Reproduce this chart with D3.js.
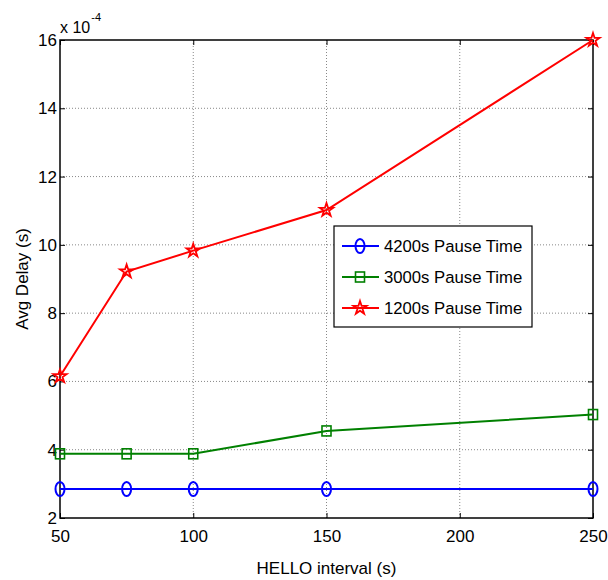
<!DOCTYPE html>
<html>
<head>
<meta charset="utf-8">
<script src="https://cdn.jsdelivr.net/npm/d3@7"></script>
<style>
  body { margin: 0; background: #fff; }
  text { font-family: "Liberation Sans", Arial, sans-serif; fill: #000; }
</style>
</head>
<body>
<div id="chart"></div>
<script>
// HELLO interval values and average delay (x 10^-4)
var intervals = [50, 75, 100, 150, 250];
var delay4200 = [2.85, 2.85, 2.85, 2.85, 2.85];
var delay3000 = [3.88, 3.88, 3.88, 4.55, 5.03];
var delay1200 = [6.15, 9.22, 9.83, 11.02, 16.0];
var seriesNames = ["4200s Pause Time", "3000s Pause Time", "1200s Pause Time"];
var seriesColors = ["#0000ff", "#008000", "#ff0000"];
var seriesMarkers = ["circle", "square", "star"];
var xTicks = [50, 100, 150, 200, 250];
var yTicks = [2, 4, 6, 8, 10, 12, 14, 16];

var W = 608, H = 580;
var margin = {left: 60, right: 15, top: 40, bottom: 62};

var svg = d3.select('#chart').append('svg')
  .attr('width', W).attr('height', H);

var x = d3.scaleLinear().domain([50, 250]).range([margin.left, W - margin.right]);
var y = d3.scaleLinear().domain([2, 16]).range([H - margin.bottom, margin.top]);

var x0 = x.range()[0], x1 = x.range()[1];
var y0 = y.range()[0], y1 = y.range()[1];

// grid lines
var grid = svg.append('g').attr('class', 'grid');
grid.selectAll('line.gx').data(xTicks.slice(1, -1)).enter().append('line')
  .attr('x1', function(d) { return x(d); }).attr('x2', function(d) { return x(d); })
  .attr('y1', y1).attr('y2', y0)
  .style('stroke', '#888').style('stroke-width', 1).style('stroke-dasharray', '1,2');
grid.selectAll('line.gy').data(yTicks.slice(1, -1)).enter().append('line')
  .attr('x1', x0).attr('x2', x1)
  .attr('y1', function(d) { return y(d); }).attr('y2', function(d) { return y(d); })
  .style('stroke', '#888').style('stroke-width', 1).style('stroke-dasharray', '1,2');

// axes (ticks pointing in, MATLAB style)
var xAxis = svg.append('g').attr('transform', 'translate(0,' + y0 + ')')
  .call(d3.axisBottom(x).tickValues(xTicks).tickSizeInner(-5).tickSizeOuter(0).tickPadding(12));
var xAxisTop = svg.append('g').attr('transform', 'translate(0,' + y1 + ')')
  .call(d3.axisTop(x).tickValues(xTicks).tickSizeInner(-5).tickSizeOuter(0).tickFormat(''));
var yAxis = svg.append('g').attr('transform', 'translate(' + x0 + ',0)')
  .call(d3.axisLeft(y).tickValues(yTicks).tickSizeInner(-5).tickSizeOuter(0).tickPadding(3));
var yAxisRight = svg.append('g').attr('transform', 'translate(' + x1 + ',0)')
  .call(d3.axisRight(y).tickValues(yTicks).tickSizeInner(-5).tickSizeOuter(0).tickFormat(''));

[xAxis, xAxisTop, yAxis, yAxisRight].forEach(function(a) {
  a.selectAll('.domain').remove();
  a.selectAll('.tick line').style('stroke', '#000');
  a.selectAll('.tick text').style('font-size', '17px').attr('font-family', null);
});

svg.append('rect')
  .attr('x', x0).attr('y', y1)
  .attr('width', x1 - x0).attr('height', y0 - y1)
  .style('fill', 'none').style('stroke', '#000').style('stroke-width', 1.5);

// exponent label
var expo = svg.append('text').attr('x', 60).attr('y', 33).style('font-size', '16px');
expo.append('tspan').text('x 10');
expo.append('tspan').attr('dy', -12).attr('dx', 1).style('font-size', '11px').text('-4');

// axis labels
svg.append('text')
  .attr('x', (x0 + x1) / 2).attr('y', 574)
  .attr('text-anchor', 'middle').style('font-size', '17px')
  .text('HELLO interval (s)');
svg.append('text')
  .attr('transform', 'translate(28,' + ((y0 + y1) / 2) + ') rotate(-90)')
  .attr('text-anchor', 'middle').style('font-size', '17px')
  .text('Avg Delay (s)');

var star = d3.symbol().type(d3.symbolStar).size(55);

function drawMarker(g, type, color, cx, cy) {
  if (type === 'circle') {
    g.append('ellipse').attr('cx', cx).attr('cy', cy).attr('rx', 4.5).attr('ry', 7)
      .style('fill', 'none').style('stroke', color).style('stroke-width', 2);
  } else if (type === 'square') {
    g.append('rect').attr('x', cx - 4.5).attr('y', cy - 5).attr('width', 9).attr('height', 10)
      .style('fill', 'none').style('stroke', color).style('stroke-width', 1.6);
  } else {
    g.append('path').attr('d', star)
      .attr('transform', 'translate(' + cx + ',' + cy + ')')
      .style('fill', 'none').style('stroke', color).style('stroke-width', 1.8);
  }
}

var allSeries = [delay4200, delay3000, delay1200];
var line = d3.line()
  .x(function(d, i) { return x(intervals[i]); })
  .y(function(d) { return y(d); });

allSeries.forEach(function(vals, s) {
  var g = svg.append('g');
  g.append('path').datum(vals).attr('d', line)
    .style('fill', 'none').style('stroke', seriesColors[s]).style('stroke-width', 2);
  vals.forEach(function(v, i) {
    drawMarker(g, seriesMarkers[s], seriesColors[s], x(intervals[i]), y(v));
  });
});

// legend
var lg = svg.append('g');
lg.append('rect').attr('x', 334).attr('y', 226).attr('width', 198).attr('height', 101)
  .style('fill', '#fff').style('stroke', '#000').style('stroke-width', 1.2);
seriesNames.forEach(function(name, s) {
  var ly = 246 + s * 31;
  lg.append('line').attr('x1', 342).attr('x2', 379).attr('y1', ly).attr('y2', ly)
    .style('stroke', seriesColors[s]).style('stroke-width', 2);
  drawMarker(lg, seriesMarkers[s], seriesColors[s], 360, ly);
  lg.append('text').attr('x', 384).attr('y', ly + 6).style('font-size', '16.7px').text(name);
});
</script>
</body>
</html>
